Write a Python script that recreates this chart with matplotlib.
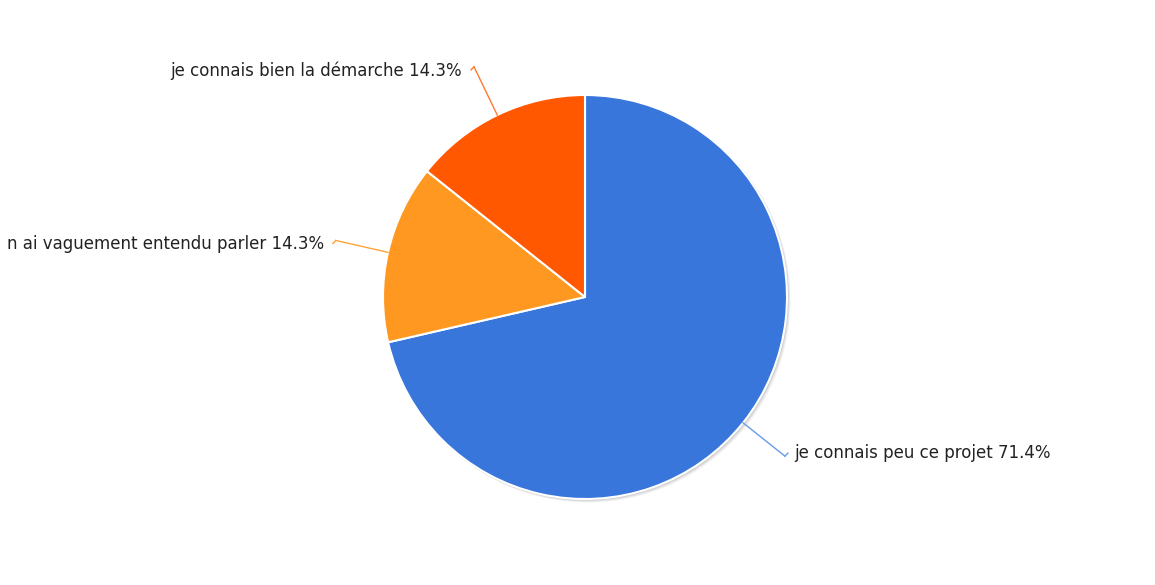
import numpy as np
import matplotlib
matplotlib.use("Agg")
import matplotlib.pyplot as plt
from matplotlib.patches import Circle

plt.rcParams["font.family"] = ["DejaVu Sans"]

# survey answers and their shares (%)
labels = ["je connais peu ce projet",
          "n ai vaguement entendu parler",
          "je connais bien la démarche"]
shares = [71.4, 14.3, 14.3]
colors = ["#3876DC", "#FF9820", "#FF5800"]
line_colors = ["#6A9BEA", "#FFA43A", "#FF7A30"]

W, H = 1155, 585
cx, cy, r = 585, 297, 202

fig = plt.figure(figsize=(W / 100, H / 100), dpi=100)
ax = fig.add_axes([0, 0, 1, 1])

# soft drop shadow behind the pie
for k, a in [(3, 0.05), (2, 0.07), (1, 0.09)]:
    ax.add_patch(Circle((cx + k, cy + k), r + 0.5, color="black", alpha=a,
                        lw=0, zorder=1))

# y axis is flipped below, so counterclock=True runs clockwise on screen
wedges, _ = ax.pie(shares, colors=colors, startangle=-90, counterclock=True,
                   center=(cx, cy), radius=r, frame=True,
                   wedgeprops=dict(edgecolor="white", linewidth=1.5))
for w in wedges:
    w.set_zorder(2)
ax.set_xlim(0, W)
ax.set_ylim(H, 0)
ax.set_aspect("equal")
ax.axis("off")

# leader lines and labels
start = 90.0
total = sum(shares)
for name, val, col in zip(labels, shares, line_colors):
    span = 360.0 * val / total
    mid = np.deg2rad(start - span / 2)
    start -= span
    x0, y0 = cx + r * np.cos(mid), cy - r * np.sin(mid)
    x1, y1 = cx + 1.265 * r * np.cos(mid), cy - 1.265 * r * np.sin(mid)
    ax.plot([x0, x1], [y0, y1], color=col, lw=1.0, zorder=3)
    if np.cos(mid) > 0:
        ax.plot([x1, x1 + 3], [y1, y1 - 3], color=col, lw=1.0, zorder=3)
        ax.text(x1 + 9, y1 - 3, f"{name} {val:.1f}%", ha="left",
                va="center", fontsize=12, color="#222222")
    else:
        ax.plot([x1, x1 - 3], [y1, y1 + 3], color=col, lw=1.0, zorder=3)
        ax.text(x1 - 12, y1 + 4, f"{name} {val:.1f}%", ha="right",
                va="center", fontsize=12, color="#222222")

fig.savefig("out.png", dpi=100, facecolor="white")
